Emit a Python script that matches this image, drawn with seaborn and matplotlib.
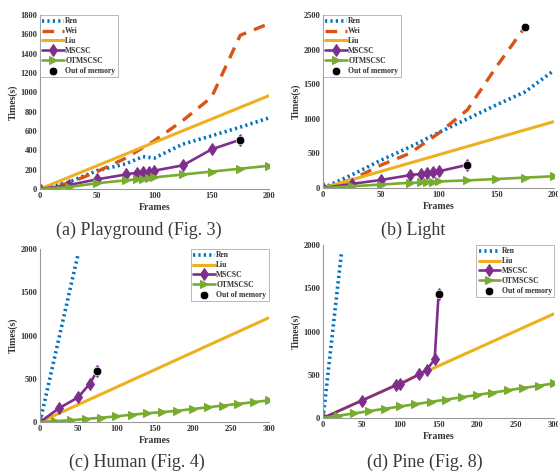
import numpy as np
import pandas as pd
import matplotlib
matplotlib.use("Agg")
import matplotlib.pyplot as plt
import seaborn as sns

sns.set_style("white")
plt.rcParams['font.family'] = ['Liberation Serif', 'DejaVu Serif']

# colours (matlab default order)
c_ren = (0.0, 0.447, 0.741)
c_wei = (0.85, 0.325, 0.098)
c_liu = (0.929, 0.694, 0.125)
c_ms = (0.494, 0.184, 0.556)
c_ot = (0.466, 0.674, 0.188)

# (a) Playground
a_ren_x = [0, 25, 50, 75, 90, 100, 125, 150, 175, 200]
a_ren_y = [0, 70, 190, 260, 335, 320, 465, 550, 640, 735]
a_wei_x = [0, 25, 50, 75, 100, 125, 150, 175, 200]
a_wei_y = [0, 60, 180, 320, 500, 710, 950, 1590, 1710]
a_liu_x = [0, 200]
a_liu_y = [0, 965]
a_ms_x = [0, 25, 50, 75, 85, 90, 95, 100, 125, 150, 175]
a_ms_y = [0, 40, 100, 150, 170, 175, 180, 190, 245, 410, 510]
a_ot_x = [0, 25, 50, 75, 85, 90, 95, 100, 125, 150, 175, 200]
a_ot_y = [0, 20, 60, 90, 100, 105, 110, 120, 150, 180, 210, 240]
a_oom_x = [175]
a_oom_y = [510]

# (b) Light
b_ren_x = [0, 25, 50, 75, 100, 125, 150, 175, 200]
b_ren_y = [0, 190, 400, 590, 800, 1000, 1200, 1390, 1700]
b_wei_x = [0, 25, 50, 75, 100, 125, 150, 175]
b_wei_y = [0, 120, 330, 500, 790, 1130, 1750, 2330]
b_liu_x = [0, 200]
b_liu_y = [0, 960]
b_ms_x = [0, 25, 50, 75, 85, 90, 95, 100, 125]
b_ms_y = [0, 60, 115, 185, 205, 215, 225, 240, 335]
b_ot_x = [0, 25, 50, 75, 85, 90, 95, 100, 125, 150, 175, 200]
b_ot_y = [0, 25, 50, 75, 80, 85, 90, 95, 110, 130, 150, 170]
b_oom_x = [175, 125]
b_oom_y = [2330, 335]

# (c) Human
c_ren_x = [0, 10, 20, 30, 40, 50]
c_ren_y = [0, 390, 780, 1170, 1560, 1940]
c_liu_x = [0, 300]
c_liu_y = [0, 1205]
c_ms_x = [0, 25, 50, 65, 75]
c_ms_y = [0, 160, 285, 440, 590]
c_ot_x = [0, 20, 40, 60, 80, 100, 120, 140, 160, 180, 200, 220, 240, 260, 280, 300]
c_ot_y = [0, 10, 20, 35, 50, 65, 85, 100, 115, 130, 150, 170, 190, 210, 230, 250]
c_oom_x = [75]
c_oom_y = [590]

# (d) Pine
d_ren_x = [0, 5, 10, 15, 20, 24]
d_ren_y = [0, 400, 800, 1200, 1600, 1915]
d_liu_x = [0, 300]
d_liu_y = [0, 1205]
d_ms_x = [0, 50, 95, 100, 125, 135, 145, 150]
d_ms_y = [0, 200, 380, 390, 505, 560, 680, 1430]
d_ot_x = [0, 20, 40, 60, 80, 100, 120, 140, 160, 180, 200, 220, 240, 260, 280, 300]
d_ot_y = [0, 27, 53, 80, 107, 133, 160, 187, 213, 240, 267, 293, 320, 347, 373, 400]
d_oom_x = [150]
d_oom_y = [1430]

fig = plt.figure(figsize=(5.58, 4.72), dpi=100)
ax_a = fig.add_axes([0.0717, 0.5996, 0.410, 0.3686])
ax_b = fig.add_axes([0.5789, 0.6017, 0.414, 0.3665])
ax_c = fig.add_axes([0.0717, 0.1059, 0.410, 0.3665])
ax_d = fig.add_axes([0.5789, 0.1144, 0.414, 0.3665])


def draw(ax, ren, wei, liu, ms, ot, oom):
    sns.lineplot(x=ren[0], y=ren[1], ax=ax, color=c_ren, linestyle=(0, (0.6, 0.9)),
                 linewidth=2.6, label="Ren")
    if wei is not None:
        sns.lineplot(x=wei[0], y=wei[1], ax=ax, color=c_wei, linestyle=(0, (3.5, 2.5)),
                     linewidth=2.4, label="Wei")
    sns.lineplot(x=liu[0], y=liu[1], ax=ax, color=c_liu, linewidth=2.2, label="Liu")
    sns.lineplot(x=ms[0], y=ms[1], ax=ax, color=c_ms, linewidth=1.9, marker="d",
                 markersize=6, markeredgecolor=c_ms, label="MSCSC", sort=False)
    sns.lineplot(x=ot[0], y=ot[1], ax=ax, color=c_ot, linewidth=1.9, marker=">",
                 markersize=6, markeredgecolor=c_ot, label="OTMSCSC")
    sns.scatterplot(x=oom[0], y=oom[1], ax=ax, color="black", s=38, zorder=5,
                    label="Out of memory")


draw(ax_a, (a_ren_x, a_ren_y), (a_wei_x, a_wei_y), (a_liu_x, a_liu_y),
     (a_ms_x, a_ms_y), (a_ot_x, a_ot_y), (a_oom_x, a_oom_y))
draw(ax_b, (b_ren_x, b_ren_y), (b_wei_x, b_wei_y), (b_liu_x, b_liu_y),
     (b_ms_x, b_ms_y), (b_ot_x, b_ot_y), (b_oom_x, b_oom_y))
draw(ax_c, (c_ren_x, c_ren_y), None, (c_liu_x, c_liu_y),
     (c_ms_x, c_ms_y), (c_ot_x, c_ot_y), (c_oom_x, c_oom_y))
draw(ax_d, (d_ren_x, d_ren_y), None, (d_liu_x, d_liu_y),
     (d_ms_x, d_ms_y), (d_ot_x, d_ot_y), (d_oom_x, d_oom_y))

settings = [
    (ax_a, 200, 1800, np.arange(0, 201, 50), np.arange(0, 1801, 200), "upper left"),
    (ax_b, 200, 2500, np.arange(0, 201, 50), np.arange(0, 2501, 500), "upper left"),
    (ax_c, 300, 2000, np.arange(0, 301, 50), np.arange(0, 2001, 500), "upper right"),
    (ax_d, 300, 2000, np.arange(0, 301, 50), np.arange(0, 2001, 500), "upper right"),
]
for ax, xm, ym, xt, yt, loc in settings:
    ax.set_xlim(0, xm)
    ax.set_ylim(0, ym)
    ax.set_xticks(xt)
    ax.set_yticks(yt)
    ax.set_xticklabels([str(v) for v in xt], fontsize=6, fontweight="bold")
    ax.set_yticklabels([str(v) for v in yt], fontsize=6, fontweight="bold")
    ax.tick_params(direction="in", length=2, width=0.6, colors="#888888", pad=2,
                   labelcolor="#333333")
    for s in ["top", "right"]:
        ax.spines[s].set_visible(False)
    for s in ["left", "bottom"]:
        ax.spines[s].set_color("#999999")
        ax.spines[s].set_linewidth(0.8)
    ax.set_xlabel("Frames", fontsize=7, fontweight="bold", color="#333333", labelpad=2)
    ax.set_ylabel("Times(s)", fontsize=7, fontweight="bold", color="#333333", labelpad=2)
    leg = ax.legend(loc=loc, fontsize=5.5, frameon=True, handlelength=2.8,
                    handletextpad=0.2, borderpad=0.3, labelspacing=0.25,
                    borderaxespad=0.0, fancybox=False)
    leg.get_frame().set_edgecolor("#999999")
    leg.get_frame().set_linewidth(0.6)
    for t in leg.get_texts():
        t.set_fontweight("bold")
        t.set_color("#333333")

# sub-figure captions
fig.text(0.249, 1 - 230 / 472, "(a) Playground (Fig. 3)", ha="center", va="center",
         fontsize=13, color="#3a3a3a")
fig.text(0.741, 1 - 230 / 472, "(b) Light", ha="center", va="center",
         fontsize=13, color="#3a3a3a")
fig.text(0.246, 1 - 462 / 472, "(c) Human (Fig. 4)", ha="center", va="center",
         fontsize=13, color="#3a3a3a")
fig.text(0.762, 1 - 462 / 472, "(d) Pine (Fig. 8)", ha="center", va="center",
         fontsize=13, color="#3a3a3a")

fig.savefig("out.png", dpi=100)
